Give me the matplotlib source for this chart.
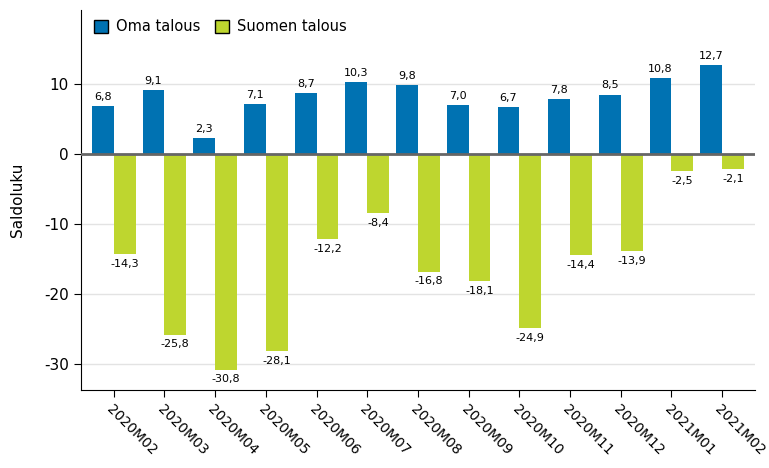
import matplotlib.pyplot as plt
import numpy as np

months = ["2020M02", "2020M03", "2020M04", "2020M05", "2020M06", "2020M07", "2020M08",
          "2020M09", "2020M10", "2020M11", "2020M12", "2021M01", "2021M02"]
oma_talous = [6.8, 9.1, 2.3, 7.1, 8.7, 10.3, 9.8, 7.0, 6.7, 7.8, 8.5, 10.8, 12.7]
suomen_talous = [-14.3, -25.8, -30.8, -28.1, -12.2, -8.4, -16.8, -18.1, -24.9, -14.4, -13.9, -2.5, -2.1]

blue = "#0072B2"
green = "#BED62F"

fig = plt.figure(figsize=(7.69, 4.68), dpi=100)
ax = fig.add_axes([0.105, 0.167, 0.877, 0.812])

x = np.arange(len(months))
w = 0.43
ax.bar(x - w / 2, oma_talous, w, color=blue, label="Oma talous", zorder=2)
ax.bar(x + w / 2, suomen_talous, w, color=green, label="Suomen talous", zorder=2)

def fmt(v):
    return f"{v:.1f}".replace(".", ",")

for xi, v in zip(x, oma_talous):
    ax.text(xi - w / 2, v + 0.6, fmt(v), ha="center", va="bottom", fontsize=8)
for xi, v in zip(x, suomen_talous):
    ax.text(xi + w / 2, v - 0.7, fmt(v), ha="center", va="top", fontsize=8)

ax.axhline(0, color="#666666", lw=2, zorder=3)
ax.set_ylim(-33.7, 20.6)
ax.set_xlim(-0.65, len(months) - 1 + 0.65)
ax.set_yticks([-30, -20, -10, 0, 10])
ax.set_yticklabels(["-30", "-20", "-10", "0", "10"])
ax.yaxis.grid(True, color="#e3e3e3", lw=1, zorder=0)
ax.set_xticks(x)
ax.set_xticklabels(months, rotation=-45, ha="left", rotation_mode="anchor", fontsize=10)
ax.tick_params(axis="y", labelsize=11, length=5)
ax.tick_params(axis="x", length=5, pad=4)
ax.set_ylabel("Saldoluku", fontsize=11, labelpad=14)

for s in ["top", "right"]:
    ax.spines[s].set_visible(False)
ax.spines["left"].set_color("black")
ax.spines["bottom"].set_color("black")

leg = ax.legend(loc="upper left", ncol=2, frameon=False, fontsize=10.5,
                handlelength=1.0, handleheight=1.0, handletextpad=0.5, columnspacing=1.0,
                bbox_to_anchor=(0.0, 1.01))
for p in leg.get_patches():
    p.set_edgecolor("black")
    p.set_linewidth(1)

fig.savefig("out.png", dpi=100)
